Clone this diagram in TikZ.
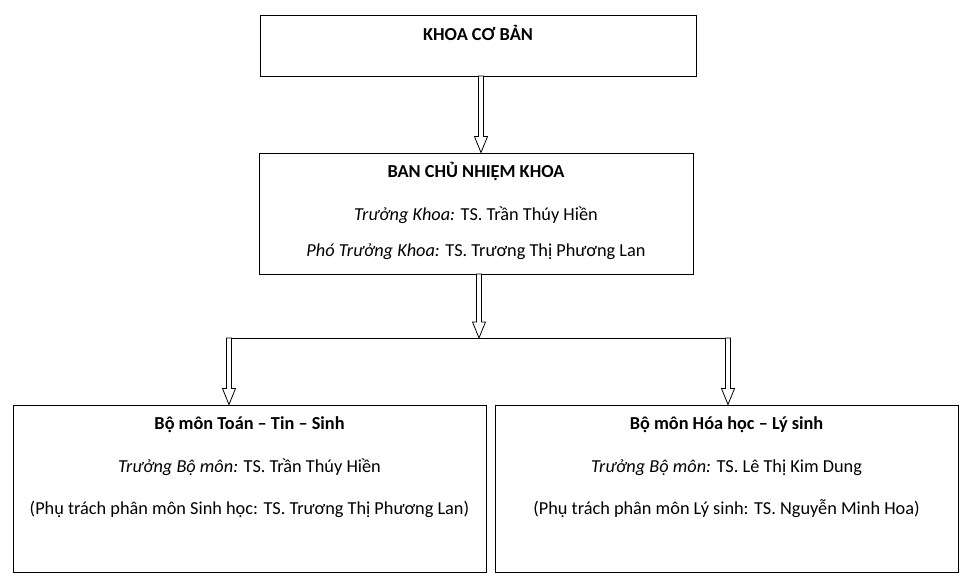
\documentclass[tikz,border=0pt]{standalone}
\usepackage{fontspec}
\setmainfont{Carlito}
\usetikzlibrary{calc}
\tikzset{
  box/.style={draw, line width=0.9pt, rectangle, inner sep=0pt},
  lbl/.style={inner sep=0pt, anchor=base, font=\fontsize{18.3}{22}\selectfont},
  harr/.style={draw, line width=0.8pt, fill=white, line join=miter},
  conn/.style={draw, line width=0.9pt}
}
\newcommand\harrow[2]{%
  \path[harr] let \p1=(#1), \p2=(#2) in
    (\x1-2.5pt,\y1) -- (\x1-2.5pt,\y2+16pt) -- (\x1-6.5pt,\y2+16pt) -- (\x1,\y2) --
    (\x1+6.5pt,\y2+16pt) -- (\x1+2.5pt,\y2+16pt) -- (\x1+2.5pt,\y1) -- cycle;}
\begin{document}
\begin{tikzpicture}[x=1pt,y=-1pt]
\useasboundingbox (0,0) rectangle (970,582);
% boxes
\node[box, minimum width=436pt, minimum height=61pt] (b1) at (478,45.5) {};
\node[box, minimum width=434pt, minimum height=121pt] (b2) at (476,213.5) {};
\node[box, minimum width=473pt, minimum height=167pt] (b3) at (249.5,488.5) {};
\node[box, minimum width=463pt, minimum height=167pt] (b4) at (726.5,488.5) {};
% texts
\node[lbl] (t1) at (478,40) {\textbf{KHOA CƠ BẢN}};
\node[lbl] (t2a) at (476,177) {\textbf{BAN CHỦ NHIỆM KHOA}};
\node[lbl] (t2b) at (476,220) {\textit{Trưởng Khoa:} TS. Trần Thúy Hiền};
\node[lbl] (t2c) at (476,256) {\textit{Phó Trưởng Khoa:} TS. Trương Thị Phương Lan};
\node[lbl] (t3a) at (249.5,429) {\textbf{Bộ môn Toán – Tin – Sinh}};
\node[lbl] (t3b) at (249.5,472) {\textit{Trưởng Bộ môn:} TS. Trần Thúy Hiền};
\node[lbl] (t3c) at (249.5,514) {(Phụ trách phân môn Sinh học: TS. Trương Thị Phương Lan)};
\node[lbl] (t4a) at (726.5,429) {\textbf{Bộ môn Hóa học – Lý sinh}};
\node[lbl] (t4b) at (726.5,472) {\textit{Trưởng Bộ môn:} TS. Lê Thị Kim Dung};
\node[lbl] (t4c) at (726.5,514) {(Phụ trách phân môn Lý sinh: TS. Nguyễn Minh Hoa)};
% connector coordinates
\coordinate (a1s) at (481,76);
\coordinate (a2s) at (479,274);
\coordinate (j) at (479,338);
\coordinate (jl) at (229,338);
\coordinate (jr) at (728,338);
% connectors
\harrow{a1s}{a1s |- b2.north}
\draw[conn] (jl) -- (jr);
\harrow{a2s}{j}
\harrow{jl}{jl |- b3.north}
\harrow{jr}{jr |- b4.north}
\end{tikzpicture}
\end{document}
